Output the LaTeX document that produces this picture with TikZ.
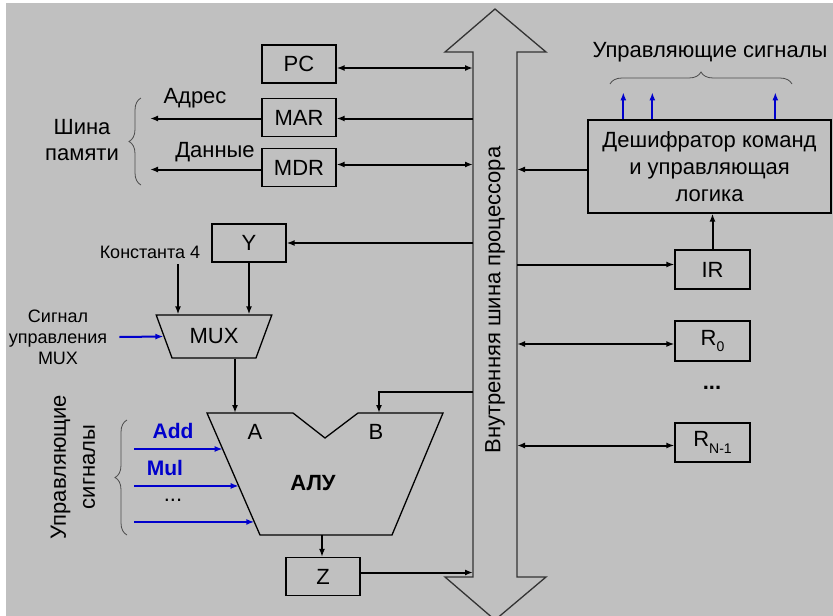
\documentclass[tikz,border=0pt]{standalone}
\usepackage{fontspec}
\setmainfont{Liberation Sans}
\usetikzlibrary{shapes.geometric,arrows.meta,calc,decorations.pathreplacing}
\definecolor{panel}{RGB}{192,192,192}
\definecolor{sigblue}{RGB}{0,0,204}

\begin{document}
\begin{tikzpicture}[x=1pt,y=-1pt,
  every node/.style={font=\fontsize{22}{26}\selectfont, inner sep=0pt},
  reg/.style={draw, line width=1.3pt, minimum width=74pt, minimum height=38pt},
  small/.style={font=\fontsize{18}{21}\selectfont},
  ar/.style={-{Latex[length=8pt,width=6pt]}, line width=2pt},
  bi/.style={{Latex[length=8pt,width=6pt]}-{Latex[length=8pt,width=6pt]}, line width=2pt},
  sig/.style={-{Latex[length=8pt,width=6pt]}, line width=2pt, draw=sigblue},
  br/.style={decorate, decoration={brace, amplitude=12pt}, line width=0.8pt, draw=black!70}]

\useasboundingbox (0,0) rectangle (833,616);
\clip (0,0) rectangle (833,616);
\fill[panel] (6,3) rectangle (833,616);

%% ---- BUS (x=473..517) ----
\coordinate (busL) at (473,0);
\coordinate (busR) at (517,0);
\draw[line width=1.3pt, draw=black!80, fill=panel]
  (473,52) -- (445,52) -- (495,9) -- (546,52) -- (517,52) -- (517,577)
  -- (546,577) -- (495,620) -- (445,577) -- (473,577) -- cycle;
\node[rotate=90] (busT) at (495,300) {Внутренняя шина процессора};

%% ---- LEFT REGISTERS ----
\node[reg] (PC)  at (299,64)    {PC};
\node[reg] (MAR) at (299,117.5) {MAR};
\node[reg] (MDR) at (299,167.5) {MDR};
\node[reg] (Y)   at (249,243)   {Y};
\node[reg] (Z)   at (323,576.5) {Z};

%% ---- MEMORY BUS ----
\coordinate (memL) at (150,0);
\node (adr)  at (195,98)  {Адрес};
\node (dat)  at (215,152) {Данные};
\node[align=center] (mem) at (82,140) {Шина\\памяти};
\draw[br] (141,185) -- (141,98);

%% ---- MUX ----
\node[small] (const) at (150,252) {Константа 4};
\node[draw, line width=1.3pt, trapezium, shape border rotate=180,
      trapezium stretches=true, trapezium left angle=59, trapezium right angle=59,
      minimum width=116pt, minimum height=43pt] (MUX) at (214,336.5) {MUX};
\node[small, align=center] (muxsig) at (58,337) {Сигнал\\управления\\MUX};

%% ---- ALU ----
\coordinate (aluTL) at (207,413);
\coordinate (aluBL) at (260,535);
\coordinate (aluA)  at (235,413);
\coordinate (aluB)  at (379,413);
\coordinate (aluO)  at (322,535);
\coordinate (bIn)   at (473,392);
\draw[line width=1.3pt] (aluTL) -- (293,413) -- (325,438) -- (358,413) -- (443,413)
  -- (392,535) -- (aluBL) -- cycle;
\node (inA) at (255,432) {A};
\node (inB) at (376,432) {B};
\node[font=\fontsize{22}{26}\selectfont\bfseries] (alu) at (313,483) {АЛУ};

%% ---- ALU control ----
\coordinate (ctlL) at (134,0);
\coordinate (e1) at ($(aluTL)!0.295!(aluBL)$);
\coordinate (e2) at ($(aluTL)!0.598!(aluBL)$);
\coordinate (e3) at ($(aluTL)!0.893!(aluBL)$);
\node[font=\fontsize{21}{24}\selectfont\bfseries, text=sigblue] (add) at (173,431) {Add};
\node[font=\fontsize{21}{24}\selectfont\bfseries, text=sigblue] (mul) at (165,468) {Mul};
\node (cdots) at (173,500) {...};
\draw[br] (127,535) -- (127,420);
\node[rotate=90, align=center, font=\fontsize{22}{29}\selectfont] (ctl) at (73,467) {Управляющие\\сигналы};

%% ---- RIGHT SIDE ----
\node[reg, minimum width=243pt, minimum height=93pt, align=center, font=\fontsize{22}{27}\selectfont]
  (DEC) at (709.5,166.5) {Дешифратор команд\\и управляющая\\логика};
\node (ctop) at (710,52) {Управляющие сигналы};
\draw[br] (610,84) -- (792,84);
\node[reg, minimum width=75pt, minimum height=39pt] (IR) at (712.5,269.5) {IR};
\node[reg, minimum width=75pt, minimum height=40pt] (R0) at (712.5,341)
  {R\raisebox{-0.3em}{\fontsize{14}{14}\selectfont 0}};
\node[font=\fontsize{22}{26}\selectfont\bfseries] (rdots) at (712,388) {...};
\node[reg, minimum width=75pt, minimum height=39pt] (RN) at (712.5,442.5)
  {R\raisebox{-0.3em}{\fontsize{14}{14}\selectfont N-1}};

%% --- Arrows left of bus ---
\draw[bi] ([yshift=-4pt]PC.east) -- ([yshift=-4pt]PC.east -| busL);
\draw[ar] ([yshift=-1pt]MAR.east -| busL) -- ([yshift=-1pt]MAR.east);
\draw[bi] ([yshift=3pt]MDR.east) -- ([yshift=3pt]MDR.east -| busL);
\draw[ar] ([yshift=-1pt]MAR.west) -- ([yshift=-1pt]MAR.west -| memL);
\draw[ar] ([yshift=-2pt]MDR.west) -- ([yshift=-2pt]MDR.west -| memL);
\draw[ar] (Y.east -| busL) -- (Y.east);
\draw[ar] ([xshift=28pt,yshift=-6pt]const.south) -- ([xshift=28pt]const.south |- MUX.north);
\draw[ar] (Y.south) -- (Y.south |- MUX.north);
\draw[sig] ([xshift=12pt]muxsig.east) -- (MUX.west);
\draw[ar] (MUX.south -| aluA) -- (aluA);
\draw[ar] (bIn) -| (aluB);
\draw[sig] (e1 -| ctlL) -- (e1);
\draw[sig] (e2 -| ctlL) -- (e2);
\draw[sig] (e3 -| ctlL) -- (e3);
\draw[ar] (aluO) -- (aluO |- Z.north);
\draw[ar] ([yshift=4pt]Z.east) -- ([yshift=4pt]Z.east -| busL);

%% --- Arrows right of bus ---
\draw[ar] ([yshift=-3pt]DEC.west) -- ([yshift=-3pt]DEC.west -| busR);
\draw[ar] (IR.north) -- (IR.north |- DEC.south);
\draw[ar] ([yshift=5pt]IR.west -| busR) -- ([yshift=5pt]IR.west);
\draw[bi] ([yshift=-3pt]R0.west -| busR) -- ([yshift=-3pt]R0.west);
\draw[bi] ([yshift=-3pt]RN.west -| busR) -- ([yshift=-3pt]RN.west);
\draw[sig] ([xshift=36pt]DEC.north west) -- ++(0,-27);
\draw[sig] ([xshift=65pt]DEC.north west) -- ++(0,-27);
\draw[sig] ([xshift=188pt]DEC.north west) -- ++(0,-27);
\end{tikzpicture}
\end{document}
